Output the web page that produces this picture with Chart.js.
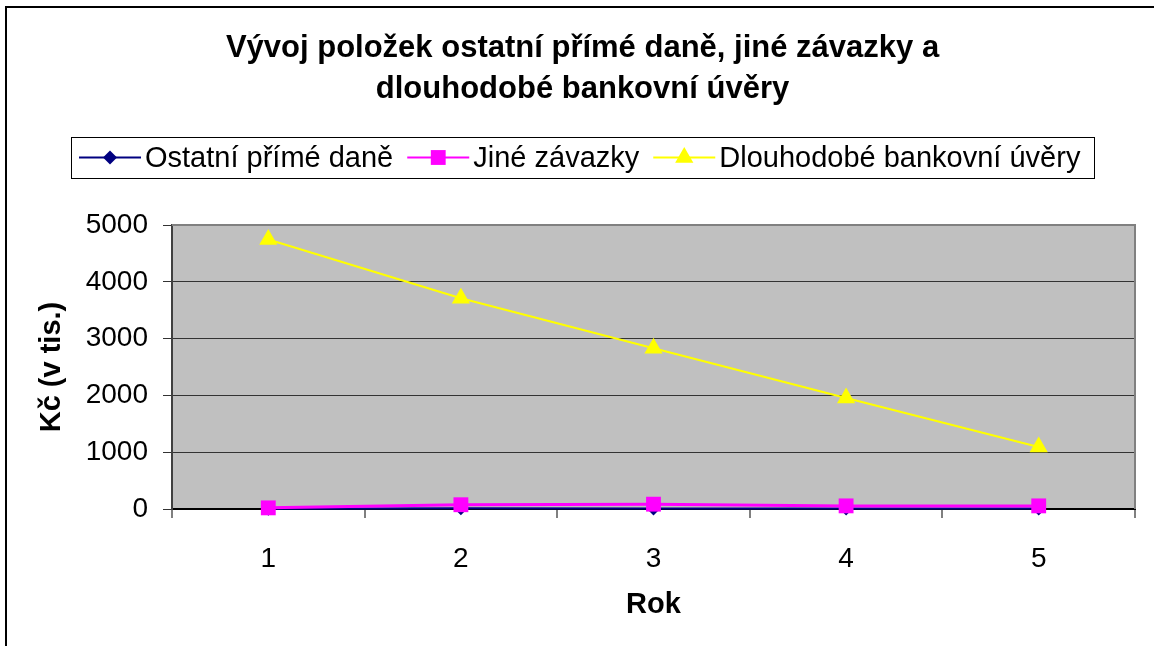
<!DOCTYPE html>
<html>
<head>
<meta charset="utf-8">
<script src="https://cdn.jsdelivr.net/npm/chart.js@4/dist/chart.umd.min.js"></script>
<style>
  html, body { margin: 0; padding: 0; background: #fff; }
  #wrap { width: 1154px; height: 646px; }
</style>
</head>
<body>
<div id="wrap"><canvas id="chart" width="1154" height="646"></canvas></div>
<script>
const years = ["1", "2", "3", "4", "5"];
const ostatniPrimeDane = [5, 12, 10, 8, 8];
const jineZavazky = [20, 75, 85, 55, 55];
const dlouhodobeUvery = [4745, 3710, 2830, 1955, 1090];
const yTicks = [0, 1000, 2000, 3000, 4000, 5000];
const titleLines = ["Vývoj položek ostatní přímé daně, jiné závazky a", "dlouhodobé bankovní úvěry"];
const seriesNames = ["Ostatní přímé daně", "Jiné závazky", "Dlouhodobé bankovní úvěry"];

const FONT = "'Liberation Sans', Arial, sans-serif";

// grey plot area, frame, outer border and the boxed legend
const excelLook = {
    id: "excelLook",
    beforeDraw(chart) {
        const { ctx, chartArea: a } = chart;
        ctx.save();
        ctx.fillStyle = "#c0c0c0";
        ctx.fillRect(a.left, a.top, a.right - a.left, a.bottom - a.top);
        ctx.restore();
    },
    beforeDatasetsDraw(chart) {
        const { ctx, chartArea: a } = chart;
        ctx.save();
        ctx.strokeStyle = "#808080";
        ctx.lineWidth = 2;
        ctx.beginPath();
        ctx.moveTo(a.left, a.top);
        ctx.lineTo(a.right, a.top);
        ctx.lineTo(a.right, a.bottom);
        ctx.stroke();
        ctx.restore();
    },
    afterDraw(chart) {
        const ctx = chart.ctx;
        ctx.save();
        ctx.strokeStyle = "#000";
        ctx.lineWidth = 2;
        ctx.beginPath();
        ctx.moveTo(6, 646);
        ctx.lineTo(6, 7);
        ctx.lineTo(1154, 7);
        ctx.stroke();

        ctx.font = "29px " + FONT;
        const lineLen = 62, gapText = 4, gapItem = 14;
        const items = chart.data.datasets.map((ds) => ({ ds, w: ctx.measureText(ds.label).width }));
        const total = items.reduce((s, it) => s + lineLen + gapText + it.w, 0) + gapItem * (items.length - 1);
        let x = Math.round(580 - total / 2);
        const cy = 157.5;

        ctx.lineWidth = 1;
        ctx.strokeStyle = "#000";
        ctx.strokeRect(x - 8 + 0.5, 137.5, Math.round(total + 22), 41);

        items.forEach((it) => {
            const ds = it.ds;
            ctx.strokeStyle = ds.borderColor;
            ctx.lineWidth = 2;
            ctx.beginPath();
            ctx.moveTo(x, cy);
            ctx.lineTo(x + lineLen, cy);
            ctx.stroke();
            ctx.fillStyle = ds.pointBackgroundColor;
            Chart.helpers.drawPoint(ctx, {
                pointStyle: ds.pointStyle,
                radius: ds.pointRadius,
                rotation: 0,
                borderWidth: 0,
            }, x + lineLen / 2, cy);
            ctx.fillStyle = "#000";
            ctx.textBaseline = "middle";
            ctx.textAlign = "left";
            ctx.fillText(ds.label, x + lineLen + gapText, cy + 1);
            x += lineLen + gapText + it.w + gapItem;
        });
        ctx.restore();
    },
};

const makeDataset = (label, data, color, pointStyle, radius, order, width) => ({
    label,
    data,
    borderColor: color,
    backgroundColor: color,
    pointBackgroundColor: color,
    pointBorderColor: color,
    pointBorderWidth: 0,
    pointStyle,
    pointRadius: radius,
    pointHoverRadius: radius,
    borderWidth: width,
    tension: 0,
    fill: false,
    clip: false,
    order,
});

const chart = new Chart(document.getElementById("chart").getContext("2d"), {
    type: "line",
    data: {
        labels: years,
        datasets: [
            makeDataset(seriesNames[0], ostatniPrimeDane, "#000080", "rectRot", 7, 3, 2),
            makeDataset(seriesNames[1], jineZavazky, "#ff00ff", "rect", 10.5, 2, 3),
            makeDataset(seriesNames[2], dlouhodobeUvery, "#ffff00", "triangle", 10.5, 1, 2),
        ],
    },
    options: {
        responsive: false,
        animation: false,
        layout: { padding: { left: 30, right: 19, top: 0, bottom: 0 } },
        plugins: {
            legend: { display: false },
            tooltip: { enabled: false },
            title: {
                display: true,
                text: titleLines,
                color: "#000",
                font: { family: FONT, size: 31, weight: "bold", lineHeight: 41 / 31 },
                padding: { top: 28, bottom: 115 },
            },
        },
        scales: {
            x: {
                type: "category",
                offset: true,
                afterFit: (s) => { s.height = 137; },
                grid: {
                    offset: true,
                    drawOnChartArea: false,
                    drawTicks: true,
                    tickLength: 9,
                    color: "#808080",
                    lineWidth: 2,
                },
                border: { display: true, color: "#000", width: 2 },
                ticks: {
                    color: "#000",
                    padding: 24,
                    maxRotation: 0,
                    font: { family: FONT, size: 28 },
                },
                title: {
                    display: true,
                    text: "Rok",
                    color: "#000",
                    font: { family: FONT, size: 29, weight: "bold" },
                    padding: { top: 0, bottom: 24 },
                },
            },
            y: {
                min: 0,
                max: 5000,
                afterFit: (s) => { s.width = 142; },
                afterBuildTicks: (s) => { s.ticks = yTicks.map((v) => ({ value: v })); },
                grid: {
                    color: "#333333",
                    lineWidth: 1,
                    drawTicks: true,
                    tickLength: 9,
                },
                border: { display: true, color: "#404040", width: 2 },
                ticks: {
                    color: "#000",
                    padding: 15,
                    font: { family: FONT, size: 28 },
                    callback: (v) => String(v),
                },
                title: {
                    display: true,
                    text: "Kč (v tis.)",
                    color: "#000",
                    font: { family: FONT, size: 29, weight: "bold" },
                    padding: { top: 5, bottom: 0 },
                },
            },
        },
    },
    plugins: [excelLook],
});
</script>
</body>
</html>
